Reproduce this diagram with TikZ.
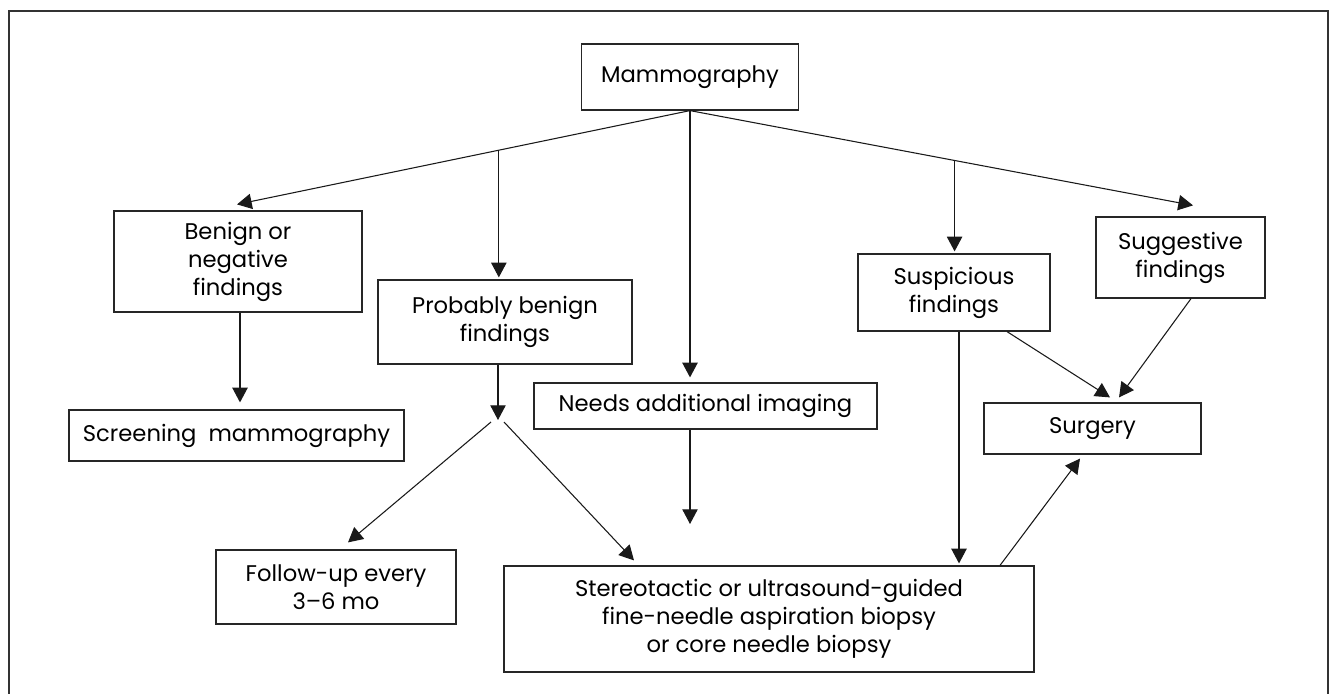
\documentclass[tikz,border=0pt]{standalone}
\usepackage{fontspec}
\setmainfont{Poppins}
\usetikzlibrary{arrows.meta,calc}
\begin{document}
\begin{tikzpicture}[x=0.75pt,y=-0.75pt,
  box/.style={draw=black!85,line width=0.9pt,align=center,inner sep=0pt,
    font=\fontsize{17}{21}\selectfont},
  bw/.style={minimum width=#1*0.75pt},
  bh/.style={minimum height=#1*0.75pt},
  arr/.style={draw=black!90,line width=0.8pt,-{Triangle[length=11pt,width=11.5pt]}},
  frame/.style={draw=black!80,line width=1.2pt}]
\useasboundingbox (0,0) rectangle (1330,693);
\draw[frame] (9,700) -- (9,11) -- (1328,11) -- (1328,700);
% nodes
\node[box,bw=217,bh=66] (mam) at (690,77) {Mammography};
\node[box,bw=248,bh=101] (ben) at (238,261.5) {Benign or\\negative\\findings};
\node[box,bw=254,bh=84] (pb) at (505,322) {Probably benign\\findings};
\node[box,bw=343,bh=46] (need) at (705.5,406) {Needs additional imaging};
\node[box,bw=335,bh=51] (scr) at (236.5,435.5) {Screening\ \ mammography};
\node[box,bw=192,bh=77] (sus) at (954,292.5) {Suspicious\\findings};
\node[box,bw=169,bh=81] (sug) at (1180.5,257.5) {Suggestive\\findings};
\node[box,bw=217,bh=51] (sur) at (1092.5,428.5) {Surgery};
\node[box,bw=240,bh=74] (fu) at (336,587) {Follow-up every\\3–6 mo};
\node[box,bw=530,bh=106] (st) at (769,619) {Stereotactic or ultrasound-guided\\fine-needle aspiration biopsy\\or core needle biopsy};
% helper coordinates
\coordinate (tBen) at ($(ben.north)+(-1,-6)$);
\coordinate (tSug) at ($(sug.north)+(12.5,-11)$);
\coordinate (j1) at ($(mam.south)!0.422!(tBen)$);
\coordinate (j2) at ($(mam.south)!0.526!(tSug)$);
\coordinate (pbs) at ($(pb.south)+(-7,0)$);
\coordinate (fe1) at (498,420);
\coordinate (s1) at (491,422);
\coordinate (s2) at (504,422);
\coordinate (fe2) at (690,524);
% connectors
\draw[arr] (mam.south) -- (tBen);
\draw[arr] (mam.south) -- (tSug);
\draw[arr] (j1) -- ($(j1 |- pb.north)+(0,-2)$);
\draw[arr] (j2) -- ($(j2 |- sus.north)+(0,-2)$);
\draw[arr] (mam.south) -- ($(mam.south |- need.north)+(0,-5)$);
\draw[arr] ($(ben.south)+(2,0)$) -- ($(ben.south |- scr.north)+(2,-7)$);
\draw[arr] (pbs) -- (fe1);
\draw[arr] (s1) -- ($(fu.north)+(12,-7)$);
\draw[arr] (s2) -- ($(st.north)+(-135,-5)$);
\draw[arr] (mam.south |- need.south) -- (fe2);
\draw[arr] ($(sus.south)+(5,0)$) -- ($(sus.south |- st.north)+(5,-2)$);
\draw[arr] ($(sus.south)+(53,0)$) -- ($(sur.north)+(17.5,-5)$);
\draw[arr] ($(sug.south)+(10.5,0)$) -- ($(sur.north)+(26.5,-5)$);
\draw[arr] ($(st.north)+(231,0)$) -- ($(sur.south)+(-12.5,4)$);
\end{tikzpicture}
\end{document}
